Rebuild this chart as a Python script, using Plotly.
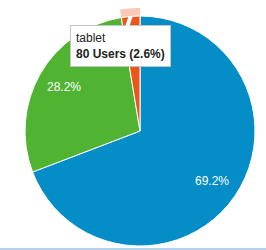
import math
import plotly.graph_objects as go

# ---- data ----
labels = ["desktop", "mobile", "tablet"]
users = [2129, 868, 80]
colors = ["#058dc7", "#50b432", "#ed561b"]
tooltip_label = "tablet"

W, H = 266, 250
CX, CY, R = 140, 131, 115  # pie centre (px from top-left) and radius

total = sum(users)
pcts = [u / total for u in users]

fig = go.Figure()
fig.add_trace(go.Pie(
    labels=labels, values=users, sort=False, direction="clockwise", rotation=0,
    marker=dict(colors=colors, line=dict(color="#ffffff", width=1)),
    textinfo="none", hoverinfo="skip", showlegend=False,
    domain=dict(x=[(CX - R) / W, (CX + R) / W], y=[1 - (CY + R) / H, 1 - (CY - R) / H]),
))

def pt(r, a):
    x = CX + r * math.sin(math.radians(a))
    y = CY - r * math.cos(math.radians(a))
    return x / W, 1 - y / H

# percentage labels along each slice's mid-angle
acc = 0.0
for lab, p in zip(labels, pcts):
    a0, a1 = acc * 360, (acc + p) * 360
    acc += p
    if lab == tooltip_label:
        continue
    lx, ly = pt(R * 0.76, (a0 + a1) / 2)
    fig.add_annotation(x=lx, y=ly, xref="paper", yref="paper", showarrow=False,
                       xanchor="center", yanchor="middle",
                       text=f"{p*100:.1f}%",
                       font=dict(family="Liberation Sans, Arial, sans-serif", size=12, color="#ffffff"))

# hover halo around the highlighted slice, computed from its angles
idx = labels.index(tooltip_label)
start = sum(pcts[:idx]) * 360
end = start + pcts[idx] * 360
R2 = R + 8
n = 20
outer = [pt(R2, start + (end - start) * i / n) for i in range(n + 1)]
inner = [pt(R + 0.5, end - (end - start) * i / n) for i in range(n + 1)]
path = "M " + " L ".join(f"{x:.5f},{y:.5f}" for x, y in outer + inner) + " Z"
fig.add_shape(type="path", path=path, xref="paper", yref="paper",
              fillcolor="rgba(237,86,27,0.32)", line=dict(width=0), layer="above")

# tooltip
mid = (start + end) / 2
tx, ty = pt(R, mid)
u = users[idx]
fig.add_annotation(
    x=tx, y=ty, xref="paper", yref="paper",
    text=f"{tooltip_label}<br><b>{u} Users ({pcts[idx]*100:.1f}%)</b>",
    showarrow=True, arrowhead=0, arrowwidth=4, arrowcolor="#ffffff",
    ax=-10, ay=30, align="left",
    bgcolor="#ffffff", bordercolor="#c4c4c4", borderwidth=1, borderpad=5,
    font=dict(family="Liberation Sans, Arial, sans-serif", size=12, color="#222222"),
)

# bottom border line
fig.add_shape(type="line", xref="paper", yref="paper", x0=0, x1=1,
              y0=1 - 249 / H, y1=1 - 249 / H, line=dict(color="#6ba4dc", width=1))

fig.update_layout(width=W, height=H, margin=dict(l=0, r=0, t=0, b=0),
                  paper_bgcolor="#ffffff", plot_bgcolor="#ffffff", showlegend=False)
fig.write_html("out.html")
